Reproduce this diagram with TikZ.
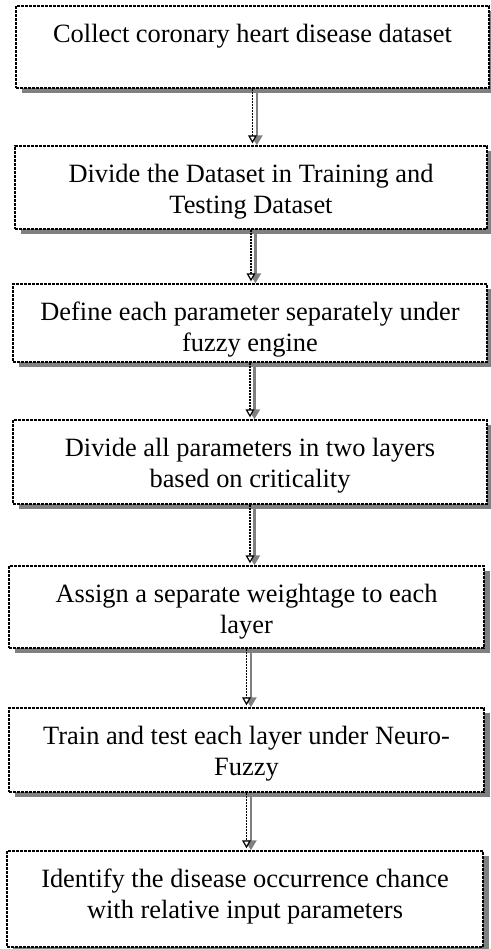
\documentclass[tikz,border=0pt]{standalone}
\usepackage{fontspec}
\setmainfont{Liberation Serif}
\usetikzlibrary{arrows.meta,fit}
\definecolor{shadegray}{RGB}{128,128,128}

% one process box: grey drop shadow, dashed frame, text set near the top
\newcommand{\flowbox}[6]{%
  \fill[shadegray] (#2+6,#3+5) rectangle (#4+6,#5+5);
  \node[boxframe, fit={(#2,#3) (#4,#5)}] (#1) {};
  \node[boxtext] (#1-t) at ([yshift=-9pt]#1.north) {#6};
}
% connector between two boxes: grey shadow shaft plus dashed black shaft
\newcommand{\flowarrow}[2]{%
  \draw[arrowshade] ([xshift=2.2pt]#1.south) -- ([xshift=2.2pt]#1.south |- #2.north);
  \draw[arrowline] (#1.south) -- ([yshift=1pt]#1.south |- #2.north);
}

\begin{document}
\begin{tikzpicture}[x=0.5pt,y=-0.5pt,
  boxframe/.style={draw=black, line width=0.7pt, dash pattern=on 1.5pt off 0.5pt,
    fill=white, inner sep=0pt},
  boxtext/.style={anchor=north, inner sep=0pt, align=center,
    font=\fontsize{13.2}{15.5}\selectfont},
  arrowshade/.style={draw=shadegray, line width=1.3pt,
    -{Triangle[length=5pt,width=5.5pt]}},
  arrowline/.style={draw=black, line width=0.6pt, dash pattern=on 1pt off 0.5pt,
    -{Triangle[open,fill=white,length=4pt,width=4.4pt]}},
]
\useasboundingbox (0,0) rectangle (491,949);

\flowbox{b1}{16}{6}{489}{88}{Collect coronary heart disease dataset}
\flowbox{b2}{15}{146}{487}{229}{Divide the Dataset in Training and\\Testing Dataset}
\flowbox{b3}{13}{284}{487}{362}{Define each parameter separately under\\fuzzy engine}
\flowbox{b4}{13}{420}{487}{504}{Divide all parameters in two layers\\based on criticality}
\flowbox{b5}{9}{566}{484}{648}{Assign a separate weightage to each\\layer}
\flowbox{b6}{9}{708}{484}{792}{Train and test each layer under Neuro-\\Fuzzy}
\flowbox{b7}{7}{851}{483}{947}{Identify the disease occurrence chance\\with relative input parameters}

\flowarrow{b1}{b2}
\flowarrow{b2}{b3}
\flowarrow{b3}{b4}
\flowarrow{b4}{b5}
\flowarrow{b5}{b6}
\flowarrow{b6}{b7}
\end{tikzpicture}
\end{document}
